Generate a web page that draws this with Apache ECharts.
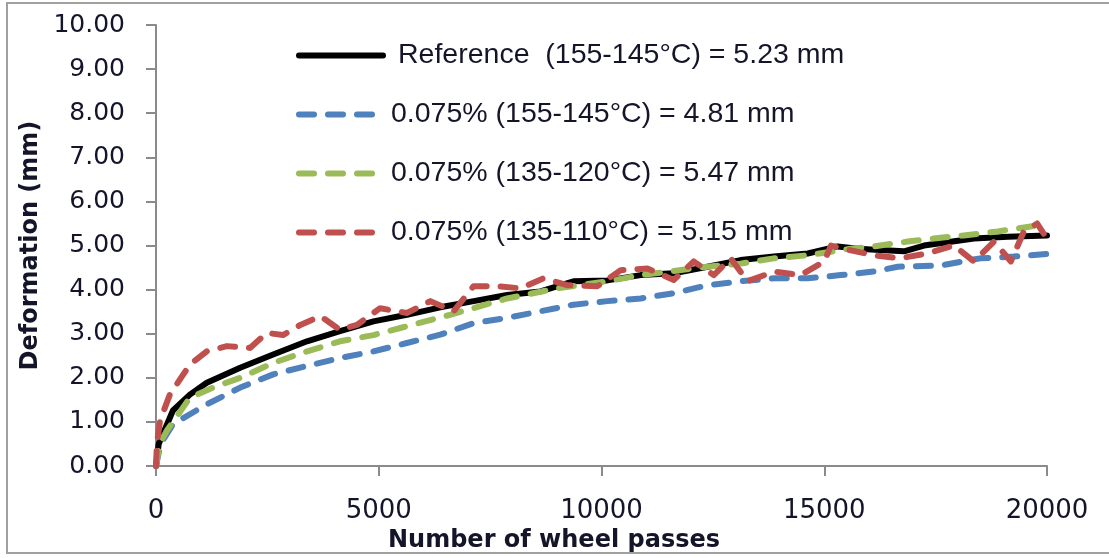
<!DOCTYPE html>
<html>
<head>
<meta charset="utf-8">
<style>html,body{margin:0;padding:0;background:#fff;}#chart{width:1109px;height:558px;}</style>
<script src="https://cdn.jsdelivr.net/npm/echarts@6/dist/echarts.min.js"></script>
</head>
<body>
<div id="chart"></div>
<script>
// ---- data ----
const seriesNames = [
  'Reference  (155-145°C) = 5.23 mm',
  '0.075% (155-145°C) = 4.81 mm',
  '0.075% (135-120°C) = 5.47 mm',
  '0.075% (135-110°C) = 5.15 mm'
];
const refPasses = [0, 60, 380, 760, 1140, 1890, 2630, 3390, 4130, 4880, 5630, 6380, 7130, 7880, 8630, 9370, 10130, 10880, 11620, 12380, 13120, 13870, 14630, 15300, 15750, 16250, 16790, 17240, 17800, 18360, 19120, 20000];
const refValues = [0, 0.5, 1.26, 1.62, 1.89, 2.23, 2.53, 2.83, 3.06, 3.28, 3.43, 3.6, 3.74, 3.88, 3.96, 4.19, 4.21, 4.33, 4.37, 4.52, 4.67, 4.75, 4.82, 4.98, 4.93, 4.9, 4.87, 5.0, 5.08, 5.16, 5.2, 5.23];

const hotPasses = [0, 100, 380, 1140, 1890, 2630, 3390, 4130, 4880, 5630, 6380, 7130, 7880, 8630, 9370, 10130, 10880, 11620, 12380, 13120, 13870, 14630, 15370, 16110, 16650, 17620, 18500, 19250, 20000];
const hotValues = [0, 0.5, 0.95, 1.4, 1.78, 2.08, 2.27, 2.45, 2.6, 2.79, 2.98, 3.24, 3.36, 3.51, 3.66, 3.74, 3.8, 3.92, 4.1, 4.19, 4.26, 4.26, 4.33, 4.41, 4.52, 4.55, 4.71, 4.75, 4.81];

const warmPasses = [0, 80, 240, 760, 1370, 1890, 2630, 3390, 4130, 4880, 5630, 6600, 7880, 9000, 10130, 10880, 12380, 13120, 13870, 14630, 15600, 16110, 16870, 17460, 18130, 18900, 19870, 20000];
const warmValues = [0, 0.5, 0.8, 1.55, 1.82, 2.0, 2.34, 2.6, 2.83, 2.97, 3.17, 3.43, 3.8, 4.03, 4.19, 4.33, 4.52, 4.59, 4.71, 4.78, 4.93, 4.98, 5.09, 5.16, 5.23, 5.32, 5.47, 5.47];

const lowPasses = [0, 20, 90, 310, 760, 1140, 1590, 2110, 2490, 2850, 3240, 3690, 4130, 4510, 5030, 5630, 6160, 6680, 7130, 7660, 8180, 8700, 9230, 9910, 10430, 11030, 11620, 12070, 12520, 12900, 13280, 13870, 14470, 15000, 15150, 15600, 16110, 16700, 17300, 17910, 18360, 18810, 19190, 19480, 19780, 20000];
const lowValues = [0, 0.5, 1.03, 1.62, 2.3, 2.6, 2.72, 2.68, 3.02, 2.97, 3.2, 3.4, 3.09, 3.2, 3.58, 3.47, 3.74, 3.51, 4.08, 4.08, 4.03, 4.26, 4.1, 4.08, 4.44, 4.48, 4.22, 4.64, 4.33, 4.71, 4.19, 4.41, 4.33, 4.64, 5.0, 4.89, 4.78, 4.71, 4.82, 5.0, 4.64, 5.09, 4.64, 5.32, 5.5, 5.15];

const xTicks = [0, 5000, 10000, 15000, 20000];
const yTicks = [0, 1, 2, 3, 4, 5, 6, 7, 8, 9, 10];

// ---- chart ----
const zip = (xs, ys) => xs.map((x, i) => [x, ys[i]]);
const colors = ['#000000', '#4F81BD', '#9BBB59', '#C0504D'];
const dash = [15, 14];
const textColor = '#15152a';

function lineSeries(i, data, dashed) {
  return {
    name: seriesNames[i],
    type: 'line',
    data: data,
    symbol: 'none',
    smooth: false,
    animation: false,
    lineStyle: {
      color: colors[i],
      width: 6,
      type: dashed ? dash : 'solid',
      cap: 'round',
      join: 'round'
    },
    itemStyle: { color: colors[i] }
  };
}

const chart = echarts.init(document.getElementById('chart'), null, { renderer: 'canvas' });
chart.setOption({
  backgroundColor: '#ffffff',
  animation: false,
  graphic: [{
    type: 'rect',
    shape: { x: 7, y: 3, width: 1110, height: 550 },
    style: { fill: 'none', stroke: '#a0a0a0', lineWidth: 2 },
    silent: true,
    z: -1
  }],
  grid: { left: 156, right: 62, top: 25, bottom: 89, containLabel: false },
  legend: {
    orient: 'vertical',
    left: 291,
    top: 36,
    itemWidth: 84,
    itemHeight: 14,
    itemGap: 30,
    itemStyle: { opacity: 0 },
    lineStyle: { width: 6, cap: 'round' },
    data: [
      { name: seriesNames[0], textStyle: { padding: [0, 0, 0, 10] } },
      { name: seriesNames[1], textStyle: { padding: [0, 0, 0, 3] } },
      { name: seriesNames[2], textStyle: { padding: [0, 0, 0, 3] } },
      { name: seriesNames[3], textStyle: { padding: [0, 0, 0, 3] } }
    ],
    textStyle: { fontFamily: 'Liberation Sans', fontSize: 28.5, color: textColor }
  },
  xAxis: {
    type: 'value',
    min: xTicks[0],
    max: xTicks[xTicks.length - 1],
    interval: xTicks[1] - xTicks[0],
    name: 'Number of wheel passes',
    nameLocation: 'middle',
    nameGap: 58,
    nameTextStyle: { fontFamily: 'DejaVu Sans', fontWeight: 'bold', fontSize: 24, color: textColor, padding: [0, 95, 0, 0] },
    axisLine: { show: true, lineStyle: { color: '#8a8a8a', width: 2 } },
    axisTick: { show: true, length: 10, lineStyle: { color: '#8a8a8a', width: 2 } },
    splitLine: { show: false },
    axisLabel: { fontFamily: 'DejaVu Sans', fontSize: 26, color: textColor, margin: 32, formatter: v => String(v) }
  },
  yAxis: {
    type: 'value',
    min: yTicks[0],
    max: yTicks[yTicks.length - 1],
    interval: yTicks[1] - yTicks[0],
    name: 'Deformation (mm)',
    nameLocation: 'middle',
    nameRotate: 90,
    nameGap: 101,
    nameTextStyle: { fontFamily: 'DejaVu Sans', fontWeight: 'bold', fontSize: 24, color: textColor },
    axisLine: { show: true, lineStyle: { color: '#8a8a8a', width: 2 } },
    axisTick: { show: true, length: 10, lineStyle: { color: '#8a8a8a', width: 2 } },
    splitLine: { show: false },
    axisLabel: { fontFamily: 'DejaVu Sans', fontSize: 25, color: textColor, margin: 31, formatter: v => v.toFixed(2) }
  },
  series: [
    lineSeries(0, zip(refPasses, refValues), false),
    lineSeries(1, zip(hotPasses, hotValues), true),
    lineSeries(2, zip(warmPasses, warmValues), true),
    lineSeries(3, zip(lowPasses, lowValues), true)
  ]
});
</script>
</body>
</html>
